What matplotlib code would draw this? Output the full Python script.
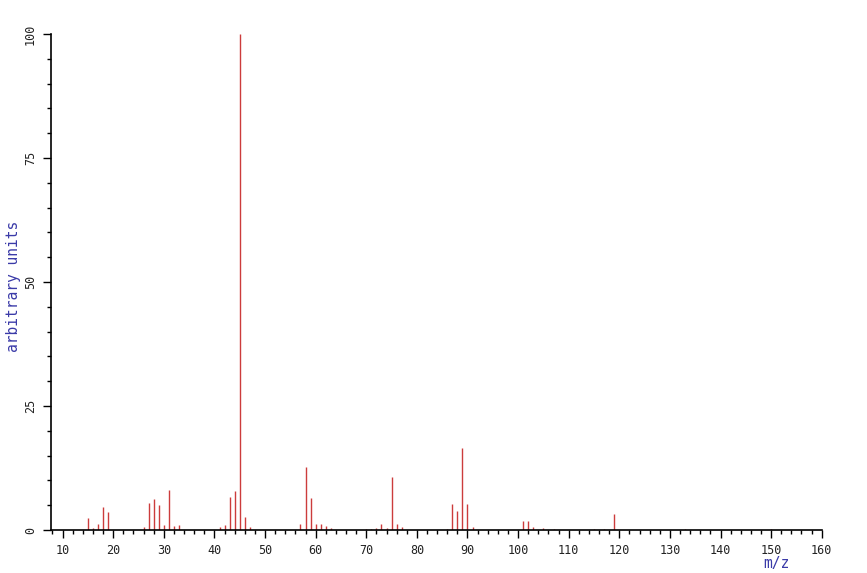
import matplotlib.pyplot as plt
from matplotlib.ticker import MultipleLocator

# m/z values and relative intensities
mz = [15, 16, 17, 18, 19, 26, 27, 28, 29, 30, 31, 32, 33, 41, 42, 43, 44, 45, 46, 47,
      57, 58, 59, 60, 61, 62, 63, 70, 71, 72, 73, 74, 75, 76, 77, 86, 87, 88, 89, 90,
      91, 101, 102, 103, 105, 107, 115, 117, 119, 133, 150]
intensity = [2.4, 0.5, 1.3, 4.7, 3.6, 0.7, 5.4, 6.3, 5.0, 1.1, 8.1, 0.9, 1.1, 0.6, 1.1,
             6.7, 7.8, 100.0, 2.7, 0.6, 1.2, 12.8, 6.5, 1.3, 1.3, 0.9, 0.4, 0.3, 0.3, 0.4,
             1.3, 0.4, 10.7, 1.3, 0.6, 0.3, 5.2, 3.8, 16.5, 5.2, 0.6, 1.8, 1.8, 0.6, 0.5,
             0.3, 0.3, 0.3, 3.2, 0.2, 0.2]

x_ticks = [10, 20, 30, 40, 50, 60, 70, 80, 90, 100, 110, 120, 130, 140, 150, 160]
y_ticks = [0, 25, 50, 75, 100]

mono = "DejaVu Sans Mono"
label_color = "#3a3aa8"

fig = plt.figure(figsize=(8.67, 5.73), dpi=100)
ax = fig.add_axes([0.0588, 0.075, 0.889, 0.8656])

ax.vlines(mz, 0, intensity, colors="#cc3c3c", linewidth=1.0)

ax.set_xlim(7.7, 160)
ax.set_ylim(0, 100)

for side in ["top", "right"]:
    ax.spines[side].set_visible(False)
ax.spines["left"].set_linewidth(1.2)
ax.spines["bottom"].set_linewidth(1.2)

ax.set_xticks(x_ticks)
ax.xaxis.set_minor_locator(MultipleLocator(2))
ax.set_yticks(y_ticks)
ax.yaxis.set_minor_locator(MultipleLocator(5))
ax.tick_params(which="major", length=6, width=1, direction="out", pad=4)
ax.tick_params(which="minor", length=3, width=1, direction="out")

for lbl in ax.get_xticklabels():
    lbl.set_fontfamily(mono)
    lbl.set_fontsize(8.5)
    lbl.set_color("#222222")
for lbl in ax.get_yticklabels():
    lbl.set_fontfamily(mono)
    lbl.set_fontsize(8.5)
    lbl.set_color("#222222")
    lbl.set_rotation(90)
    lbl.set_va("center")

fig.text(0.016, 0.5, "arbitrary units", rotation=90, va="center", ha="center",
         color=label_color, fontsize=10.5, family=mono)
fig.text(0.896, 0.003, "m/z", va="bottom", ha="center",
         color=label_color, fontsize=10.5, family=mono)

plt.savefig("out.png", dpi=100)
plt.close(fig)
